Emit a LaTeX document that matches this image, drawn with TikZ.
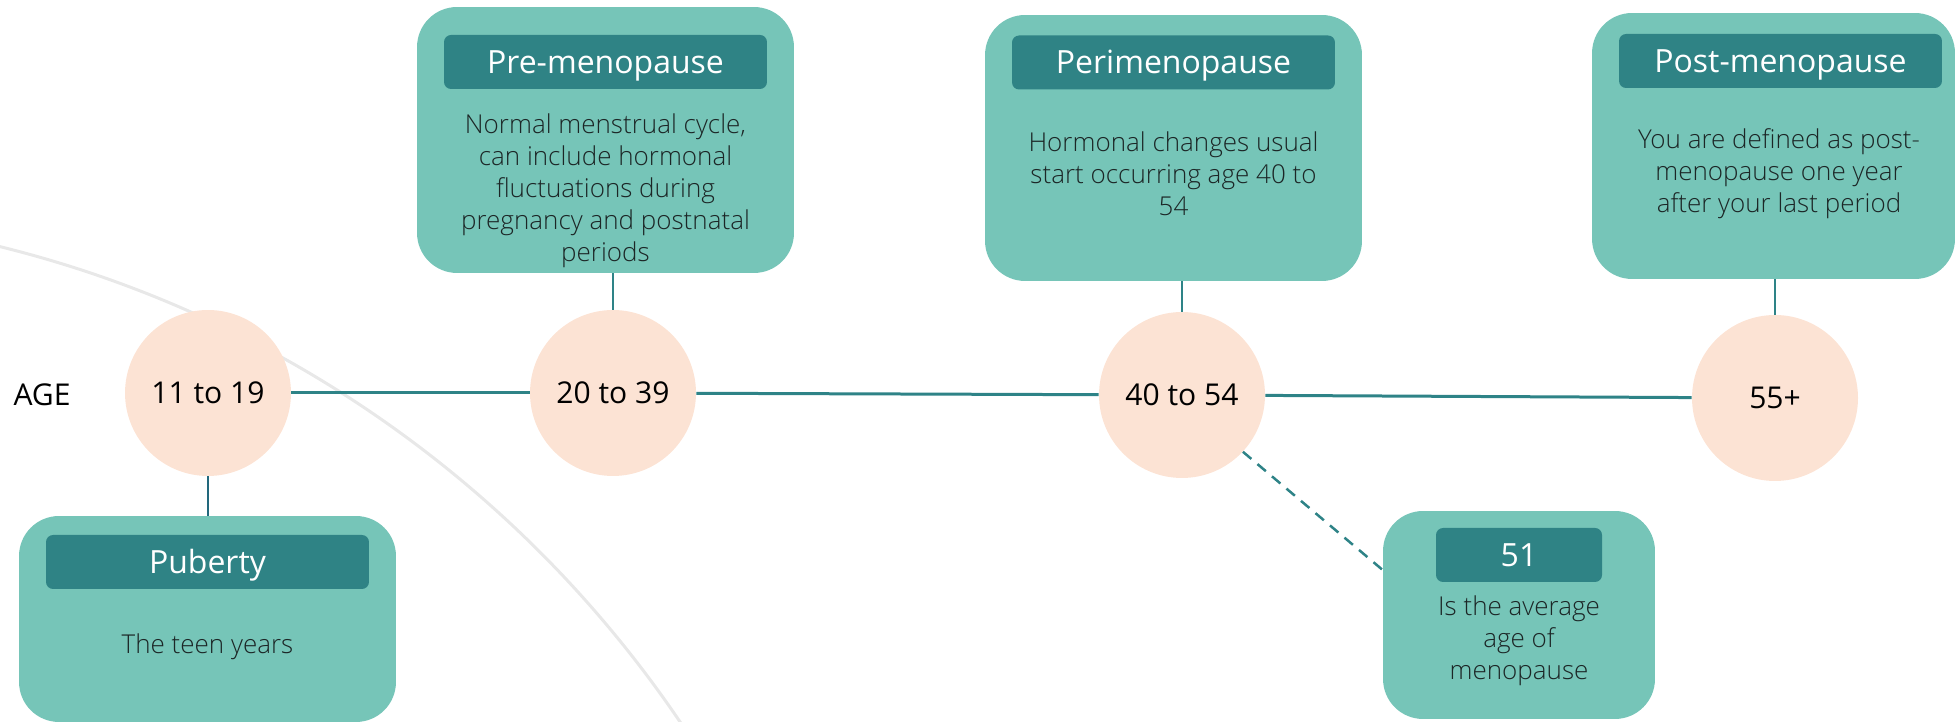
\documentclass[tikz,border=0pt]{standalone}
\usepackage{fontspec}
\setmainfont{Open Sans}
\newfontfamily\bodyfont{Open Sans}[UprightFont=* Light]
\usepackage{tikz}
\usetikzlibrary{positioning, calc}

\definecolor{cardteal}{HTML}{76C5B8}
\definecolor{headteal}{HTML}{2F8385}
\definecolor{agepeach}{HTML}{FCE3D4}
\definecolor{lineteal}{HTML}{2E8387}
\definecolor{stemblue}{HTML}{22687C}
\definecolor{arcgray}{HTML}{E8E8E8}
\definecolor{bodyink}{HTML}{1C2626}

\begin{document}
\begin{tikzpicture}[x=0.02cm, y=0.02cm,
    card/.style={fill=cardteal, rounded corners=0.8cm, inner sep=0pt},
    cardhead/.style={fill=headteal, rounded corners=0.14cm, text=white, minimum height=1.08cm, inner sep=0pt, text height=16.7pt, text depth=3.6pt, font=\fontsize{18.2}{22}\selectfont},
    cardtext/.style={align=center, text=bodyink, font=\bodyfont\fontsize{14.8}{18.2}\selectfont},
    agedot/.style={circle, fill=agepeach, minimum size=3.32cm, inner sep=0pt, font=\fontsize{17.1}{20}\selectfont},
    timeline/.style={lineteal, line width=0.06cm},
    stem/.style={lineteal, line width=0.05cm}]
    \useasboundingbox (0,0) rectangle (1956,722);

    % Background arc
    \begin{scope}
        \clip (0,0) rectangle (1956,722);
        \draw[arcgray, line width=0.06cm] (-278,-647) circle (1156);
    \end{scope}

    % Cards
    % Puberty
    \node[card, minimum width=7.54cm, minimum height=4.12cm] (puberty) at (207.5,103) {};
    \node[cardhead, minimum width=6.46cm] (pubertyhead) at (207.5,160) {Puberty};
    \node[cardtext] (pubertytext) at (207.5,75) {The teen years};

    % Pre-menopause
    \node[card, minimum width=7.54cm, minimum height=5.32cm] (pre) at (605.5,582) {};
    \node[cardhead, minimum width=6.46cm] (prehead) at (605.5,660) {Pre-menopause};
    \node[cardtext] (pretext) at (605.5,531) {Normal menstrual cycle,\\can include hormonal\\fluctuations during\\pregnancy and postnatal\\periods};

    % Perimenopause
    \node[card, minimum width=7.54cm, minimum height=5.32cm] (peri) at (1173.5,574) {};
    \node[cardhead, minimum width=6.46cm] (perihead) at (1173.5,659.5) {Perimenopause};
    \node[cardtext] (peritext) at (1173.5,548) {Hormonal changes usual\\start occurring age 40 to\\54};

    % Post-menopause
    \node[card, minimum width=7.26cm, minimum height=5.32cm] (post) at (1773.5,576) {};
    \node[cardhead, minimum width=6.46cm] (posthead) at (1780.5,661) {Post-menopause};
    \node[cardtext] (posttext) at (1779,548) {You are defined as post-\\menopause one year\\after your last period};

    % Average age
    \node[card, minimum width=5.44cm, minimum height=4.16cm] (avg) at (1519,107) {};
    \node[cardhead, minimum width=3.32cm] (avghead) at (1519,167) {51};
    \node[cardtext] (avgtext) at (1519,81) {Is the average\\age of\\menopause};

    % Age circles
    \node[font=\fontsize{17.1}{20}\selectfont] (agelabel) at (42,327) {AGE};
    \node[agedot] (c1) at (208,329) {11 to 19};
    \node[agedot] (c2) at (613,329) {20 to 39};
    \node[agedot] (c3) at (1182,327) {40 to 54};
    \node[agedot] (c4) at (1775,324) {55+};

    % Timeline
    \draw[timeline] (c1) -- (c2);
    \draw[timeline] (c2) -- (c3);
    \draw[timeline] (c3) -- (c4);

    % Stems
    \draw[stem, stemblue] (c1.south) -- (c1.south |- puberty.north);
    \draw[stem] (c2.north) -- (c2.north |- pre.south);
    \draw[stem] (c3.north) -- (c3.north |- peri.south);
    \draw[stem] (c4.north) -- (c4.north |- post.south);
    \draw[stem, dash pattern=on 0.22cm off 0.16cm] (c3.-43) -- ($(avg.west)+(0,45)$);

\end{tikzpicture}
\end{document}
